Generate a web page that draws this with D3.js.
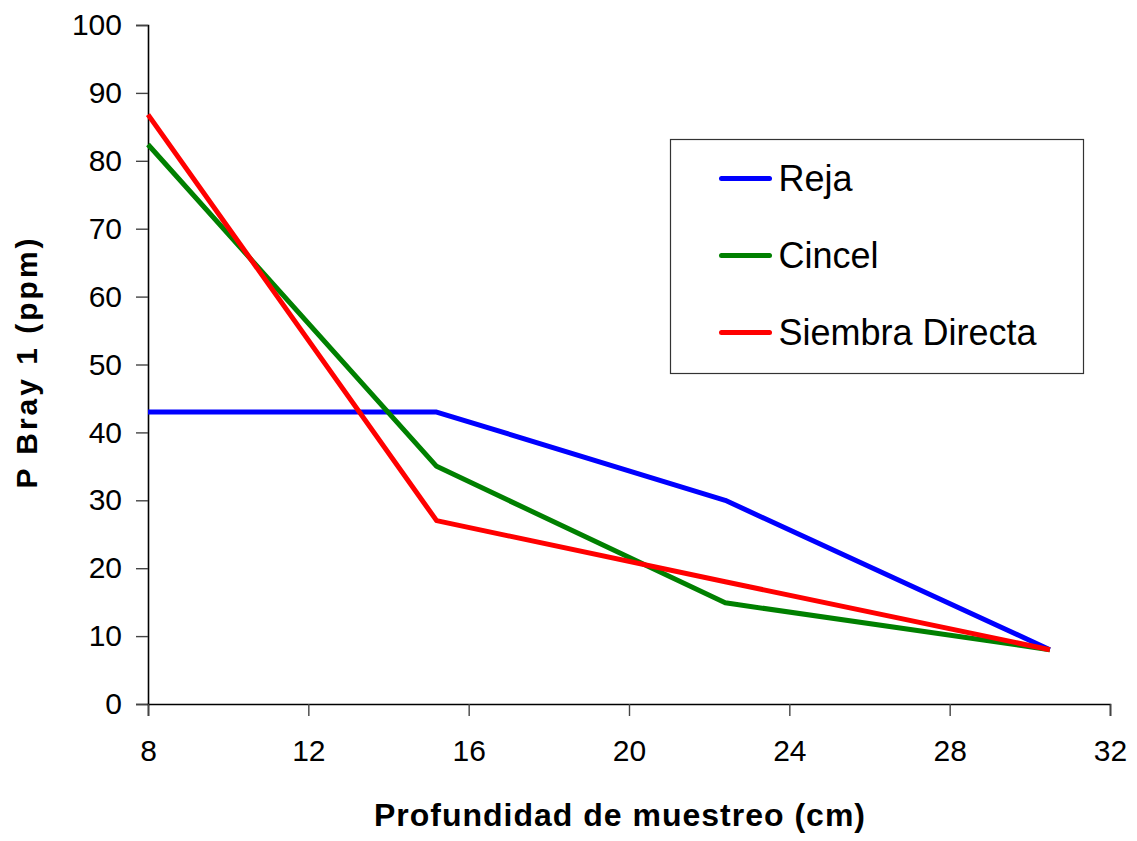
<!DOCTYPE html>
<head>
    <meta charset="utf-8">
    <title>P Bray 1 vs profundidad</title>
    <script src="https://d3js.org/d3.v7.min.js"></script>
    <style>
        body { margin: 0; }
        svg { display: block; }
    </style>
</head>
<body>
    <svg class="chart" width="1137" height="841"></svg>
</body>

<script>
// data
var depth = [8, 15.2, 22.4, 30.5];
var reja = [43, 43, 30, 8];
var cincel = [82.4, 35, 14.9, 8];
var siembra = [86.8, 27, 18, 8];
var seriesNames = ["Reja", "Cincel", "Siembra Directa"];
var seriesColors = ["#0000ff", "#008000", "#ff0000"];
var xTicks = [8, 12, 16, 20, 24, 28, 32];
var yTicks = [0, 10, 20, 30, 40, 50, 60, 70, 80, 90, 100];

var margin = {top: 25, right: 27, bottom: 137, left: 148};
var W = 1137, H = 841;

var chart = d3.select(".chart").style("background", "#fff");

var x = d3.scaleLinear().domain([8, 32]).range([margin.left, W - margin.right]);
var y = d3.scaleLinear().domain([0, 100]).range([H - margin.bottom, margin.top]);

// y axis
var yAxis = d3.axisLeft(y).tickValues(yTicks).tickSize(12).tickPadding(14);
var gy = chart.append("g").attr("class", "axis")
    .attr("transform", "translate(" + margin.left + ",0)")
    .call(yAxis);

// x axis
var xAxis = d3.axisBottom(x).tickValues(xTicks).tickSize(12).tickPadding(24);
var gx = chart.append("g").attr("class", "axis")
    .attr("transform", "translate(0," + (H - margin.bottom) + ")")
    .call(xAxis);

chart.selectAll(".axis path.domain").attr("stroke", "#000").attr("stroke-width", 1.6);
chart.selectAll(".axis line").attr("stroke", "#444").attr("stroke-width", 1.4);
chart.selectAll(".axis text")
    .style("font", "30px 'Liberation Sans', Arial, sans-serif")
    .attr("fill", "#000");

// lines
var values = [reja, cincel, siembra];
var line = d3.line()
    .x(function(d, i) { return x(depth[i]); })
    .y(function(d) { return y(d); });

chart.selectAll("path.serie")
    .data(values).enter()
    .append("path")
    .attr("class", "serie")
    .attr("d", line)
    .attr("fill", "none")
    .attr("stroke", function(d, i) { return seriesColors[i]; })
    .attr("stroke-width", 5)
    .attr("stroke-linejoin", "round");

// axis titles
chart.append("text")
    .attr("x", 620)
    .attr("y", 826)
    .attr("text-anchor", "middle")
    .style("font", "bold 32px 'Liberation Sans', Arial, sans-serif")
    .style("letter-spacing", "1px")
    .text("Profundidad de muestreo (cm)");

chart.append("text")
    .attr("transform", "translate(37,362) rotate(-90)")
    .attr("text-anchor", "middle")
    .style("font", "bold 30px 'Liberation Sans', Arial, sans-serif")
    .style("letter-spacing", "3px")
    .text("P Bray 1 (ppm)");

// legend
var legend = chart.append("g").attr("transform", "translate(670.5,139.5)");
legend.append("rect")
    .attr("width", 413)
    .attr("height", 234)
    .attr("fill", "#fff")
    .attr("stroke", "#333")
    .attr("stroke-width", 1.2);

var item = legend.selectAll("g.item")
    .data(seriesNames).enter()
    .append("g")
    .attr("class", "item")
    .attr("transform", function(d, i) { return "translate(0," + (39 + i * 77) + ")"; });

item.append("line")
    .attr("x1", 51).attr("x2", 99)
    .attr("stroke", function(d, i) { return seriesColors[i]; })
    .attr("stroke-width", 5)
    .attr("stroke-linecap", "round");

item.append("text")
    .attr("x", 108)
    .attr("dy", "0.36em")
    .style("font", "36px 'Liberation Sans', Arial, sans-serif")
    .text(function(d) { return d; });
</script>
